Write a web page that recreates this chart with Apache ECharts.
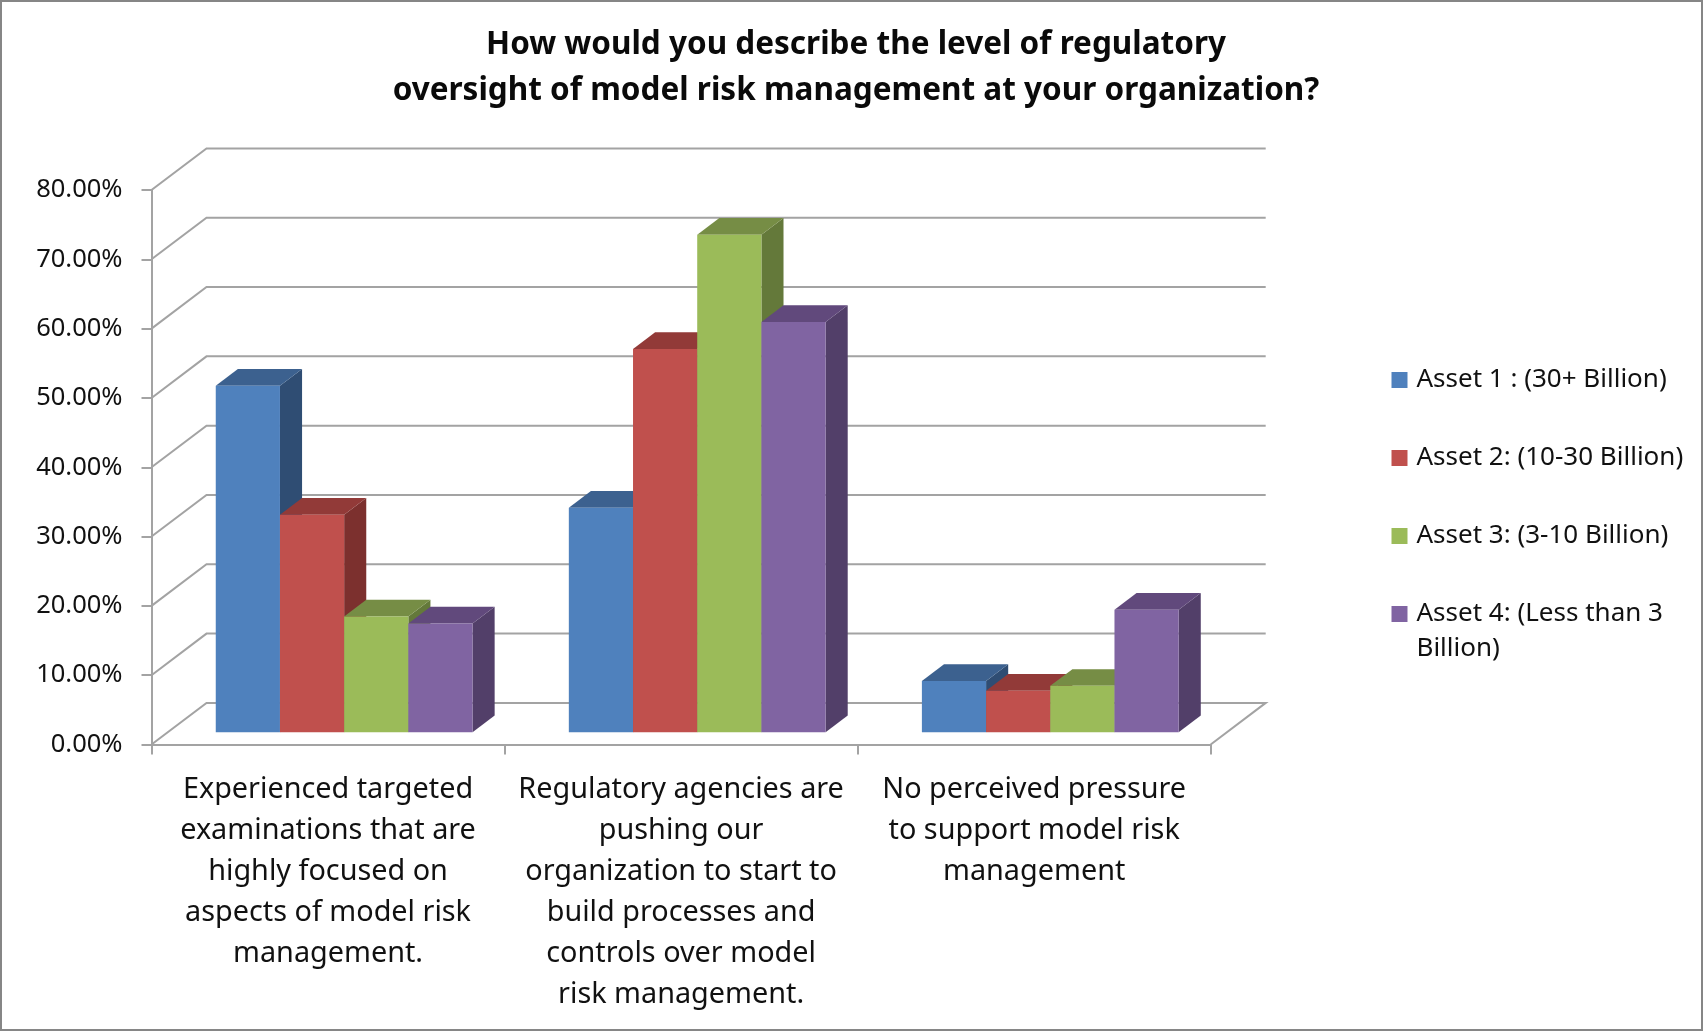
<!DOCTYPE html>
<html>
<head>
<meta charset="utf-8">
<script src="https://cdn.jsdelivr.net/npm/echarts@6/dist/echarts.min.js"></script>
<style>html,body{margin:0;padding:0;background:#fff}#c{width:1704px;height:1031px}</style>
</head>
<body>
<div id="c"></div>
<script>
const titleText = 'How would you describe the level of regulatory\noversight of model risk management at your organization?';
const categories = [
  'Experienced targeted\nexaminations that are\nhighly focused on\naspects of model risk\nmanagement.',
  'Regulatory agencies are\npushing our\norganization to start to\nbuild processes and\ncontrols over model\nrisk management.',
  'No perceived pressure\nto support model risk\nmanagement'
];
const assetNames = ['Asset 1 : (30+ Billion)', 'Asset 2: (10-30 Billion)', 'Asset 3: (3-10 Billion)', 'Asset 4: (Less than 3 Billion)'];
const asset1 = [50.0, 32.4, 7.4];
const asset2 = [31.4, 55.3, 6.0];
const asset3 = [16.7, 71.8, 6.7];
const asset4 = [15.7, 59.2, 17.7];
const assetValues = [asset1, asset2, asset3, asset4];
const yTicks = [0, 10, 20, 30, 40, 50, 60, 70, 80];
const frontColors = ['#4F81BD', '#C0504D', '#9BBB59', '#8064A2'];
const topColors = ['#3C618F', '#923A38', '#768D45', '#61497C'];
const sideColors = ['#2F4D73', '#7C302E', '#64793A', '#523F69'];

const DEPTH_X = 55, DEPTH_Y = -41.6;
const BAR_FRONT = 0.293, BAR_BACK = 0.695;
const GRID_COLOR = '#A3A3A3';
const FONT = '"Noto Sans"';

function wallItem(params, api) {
  const v = api.value(1);
  const band = api.size([1, 0])[0];
  const left = api.coord([0, v])[0] - band / 2;
  const right = api.coord([categories.length - 1, v])[0] + band / 2;
  const y = api.coord([0, v])[1];
  const pts = [[left, y], [left + DEPTH_X, y + DEPTH_Y], [right + DEPTH_X, y + DEPTH_Y]];
  if (v === 0) pts.push([right, y]);
  return {
    type: 'polyline',
    shape: { points: pts },
    style: { stroke: GRID_COLOR, lineWidth: 2, fill: 'none' },
    silent: true
  };
}

function barItem(seriesPos) {
  return function (params, api) {
    const c = api.value(0), v = api.value(1);
    const band = api.size([1, 0])[0];
    const barW = band / 5.5;
    const center = api.coord([c, 0]);
    const top = api.coord([c, v]);
    const fx = DEPTH_X * BAR_FRONT, fy = DEPTH_Y * BAR_FRONT;
    const dx = DEPTH_X * (BAR_BACK - BAR_FRONT), dy = DEPTH_Y * (BAR_BACK - BAR_FRONT);
    const x0 = center[0] - 2 * barW + seriesPos * barW + fx;
    const x1 = x0 + barW;
    const yb = center[1] + fy;
    const yt = top[1] + fy;
    return {
      type: 'group',
      children: [
        { type: 'polygon', shape: { points: [[x1, yt], [x1 + dx, yt + dy], [x1 + dx, yb + dy], [x1, yb]] }, style: { fill: sideColors[seriesPos] } },
        { type: 'polygon', shape: { points: [[x0, yt], [x0 + dx, yt + dy], [x1 + dx, yt + dy], [x1, yt]] }, style: { fill: topColors[seriesPos] } },
        { type: 'rect', shape: { x: x0, y: yt, width: barW, height: yb - yt }, style: { fill: frontColors[seriesPos] } }
      ]
    };
  };
}

const legendTops = [360.5, 438.5, 516.5, 559.5];
const legends = assetNames.map((name, i) => ({
  data: [{ name: name, icon: 'rect' }],
  orient: 'vertical',
  left: 1391.5,
  top: legendTops[i],
  padding: 0,
  itemWidth: 16,
  itemHeight: 16,
  selectedMode: false,
  formatter: (n) => n === assetNames[3] ? '\nAsset 4: (Less than 3\nBillion)' : n,
  textStyle: { fontFamily: FONT, fontSize: 26, color: '#111', lineHeight: 35, padding: [4, 0, 0, 4] }
}));

const chart = echarts.init(document.getElementById('c'), null, { renderer: 'canvas' });
chart.setOption({
  animation: false,
  backgroundColor: '#fff',
  color: frontColors,
  title: {
    text: titleText,
    left: 851,
    top: 17,
    textAlign: 'center',
    textStyle: { fontFamily: FONT, fontWeight: 'bold', fontSize: 31.5, lineHeight: 46, color: '#0a0a0a' }
  },
  legend: legends,
  grid: { left: 151.5, top: 190, width: 1059.2, height: 554.5, containLabel: false },
  xAxis: {
    type: 'category',
    data: categories,
    axisLine: { show: true, lineStyle: { color: GRID_COLOR, width: 2 } },
    axisTick: { show: true, length: 10, lineStyle: { color: GRID_COLOR, width: 2 } },
    axisLabel: { interval: 0, margin: 25, fontFamily: FONT, fontSize: 28.8, lineHeight: 41, color: '#111', verticalAlign: 'top' },
    splitLine: { show: false }
  },
  yAxis: {
    type: 'value',
    min: 0, max: 80, interval: 10,
    axisLine: { show: true, lineStyle: { color: GRID_COLOR, width: 2 } },
    axisTick: { show: true, length: 10, lineStyle: { color: GRID_COLOR, width: 2 } },
    axisLabel: { margin: 29, fontFamily: FONT, fontSize: 25.5, color: '#111', padding: [13, 0, 0, 0], formatter: (v) => v.toFixed(2) + '%' },
    splitLine: { show: false }
  },
  graphic: [{
    type: 'rect', silent: true, z: -1,
    shape: { x: 1, y: 1, width: 1701, height: 1029 },
    style: { fill: 'none', stroke: '#868686', lineWidth: 2 }
  }],
  series: [
    {
      type: 'custom', name: 'walls', silent: true, z: 1,
      renderItem: wallItem,
      data: yTicks.map((t) => [0, t]),
      encode: { x: 0, y: 1 }
    }
  ].concat(assetNames.map((name, i) => ({
    type: 'custom', name: name, z: 3 + i,
    renderItem: barItem(i),
    itemStyle: { color: frontColors[i] },
    data: assetValues[i].map((v, c) => [c, v]),
    encode: { x: 0, y: 1 }
  })))
});
</script>
</body>
</html>
